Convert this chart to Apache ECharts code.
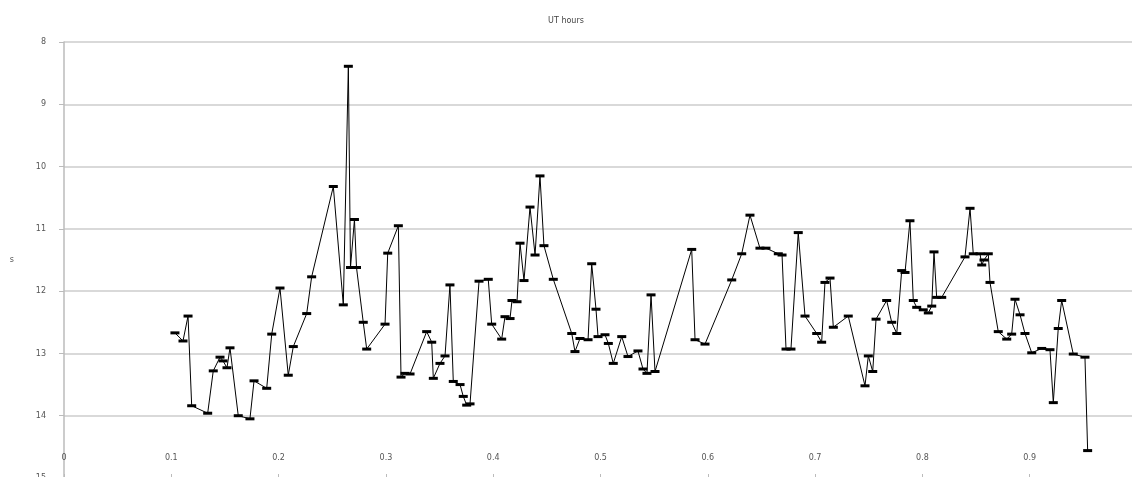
<!DOCTYPE html>
<html>
<head>
<meta charset="utf-8">
<title>UT hours</title>
<script src="https://cdn.jsdelivr.net/npm/echarts@6/dist/echarts.min.js"></script>
<style>
  html, body { margin: 0; padding: 0; background: #ffffff; }
  #chart { width: 1132px; height: 477px; }
</style>
</head>
<body>
<div id="chart"></div>
<script>
// Chart text
const chartTitle = 'UT hours';
const yAxisTitle = 's';

// Phase (x) of each observation
const phase = [
  0.1034, 0.1109, 0.1156, 0.1190, 0.1339, 0.1391, 0.1454, 0.1482, 0.1519, 0.1547,
  0.1624, 0.1733, 0.1771, 0.1889, 0.1936, 0.2013, 0.2090, 0.2137, 0.2262, 0.2308,
  0.2510, 0.2603, 0.2650, 0.2670, 0.2707, 0.2726, 0.2789, 0.2821, 0.2992, 0.3017,
  0.3116, 0.3141, 0.3178, 0.3225, 0.3380, 0.3427, 0.3442, 0.3504, 0.3551, 0.3597,
  0.3628, 0.3691, 0.3721, 0.3753, 0.3784, 0.3868, 0.3954, 0.3986, 0.4079, 0.4110,
  0.4157, 0.4175, 0.4222, 0.4250, 0.4287, 0.4343, 0.4390, 0.4436, 0.4473, 0.4560,
  0.4732, 0.4762, 0.4809, 0.4884, 0.4918, 0.4958, 0.4977, 0.5042, 0.5073, 0.5119,
  0.5198, 0.5256, 0.5349, 0.5396, 0.5433, 0.5471, 0.5508, 0.5850, 0.5881, 0.5974,
  0.6223, 0.6316, 0.6393, 0.6486, 0.6542, 0.6657, 0.6692, 0.6729, 0.6775, 0.6843,
  0.6906, 0.7015, 0.7061, 0.7092, 0.7139, 0.7170, 0.7309, 0.7465, 0.7496, 0.7537,
  0.7568, 0.7667, 0.7714, 0.7761, 0.7807, 0.7838, 0.7884, 0.7915, 0.7947, 0.8008,
  0.8055, 0.8087, 0.8108, 0.8133, 0.8180, 0.8397, 0.8444, 0.8474, 0.8537, 0.8553,
  0.8574, 0.8614, 0.8630, 0.8707, 0.8786, 0.8832, 0.8863, 0.8910, 0.8956, 0.9019,
  0.9112, 0.9189, 0.9220, 0.9266, 0.9298, 0.9406, 0.9515, 0.9540
];

// UT hours at each phase
const utHours = [
  12.67, 12.80, 12.40, 13.84, 13.96, 13.28, 13.06, 13.12, 13.23, 12.91,
  14.00, 14.05, 13.44, 13.56, 12.69, 11.95, 13.35, 12.89, 12.36, 11.77,
  10.32, 12.22, 8.39, 11.62, 10.85, 11.62, 12.50, 12.93, 12.53, 11.39,
  10.95, 13.38, 13.32, 13.33, 12.65, 12.82, 13.40, 13.16, 13.04, 11.90,
  13.45, 13.50, 13.69, 13.83, 13.81, 11.84, 11.81, 12.53, 12.77, 12.41,
  12.44, 12.15, 12.17, 11.23, 11.83, 10.65, 11.42, 10.15, 11.27, 11.81,
  12.68, 12.97, 12.76, 12.78, 11.56, 12.29, 12.73, 12.70, 12.84, 13.16,
  12.73, 13.05, 12.96, 13.25, 13.32, 12.06, 13.29, 11.33, 12.78, 12.85,
  11.82, 11.40, 10.78, 11.31, 11.31, 11.40, 11.42, 12.93, 12.93, 11.06,
  12.40, 12.68, 12.82, 11.86, 11.79, 12.58, 12.40, 13.52, 13.04, 13.29,
  12.45, 12.15, 12.50, 12.68, 11.67, 11.70, 10.87, 12.15, 12.26, 12.30,
  12.35, 12.24, 11.37, 12.10, 12.10, 11.45, 10.67, 11.40, 11.40, 11.58,
  11.50, 11.40, 11.86, 12.65, 12.77, 12.69, 12.13, 12.38, 12.68, 12.99,
  12.92, 12.94, 13.79, 12.60, 12.15, 13.01, 13.06, 14.56
];

const points = phase.map((p, i) => [p, utHours[i]]);

const chart = echarts.init(document.getElementById('chart'), null, { renderer: 'canvas' });

const labelFont = {
  color: '#555555',
  fontFamily: 'DejaVu Sans',
  fontSize: 8
};

chart.setOption({
  animation: false,
  backgroundColor: '#ffffff',
  title: {
    text: chartTitle,
    left: 'center',
    top: 12,
    textStyle: { color: '#444444', fontFamily: 'DejaVu Sans', fontSize: 8, fontWeight: 'normal' }
  },
  grid: {
    left: 64,
    top: 42,
    width: 1073,
    height: 436,
    containLabel: false,
    outerBoundsMode: 'none'
  },
  xAxis: {
    type: 'value',
    min: 0,
    max: 1,
    interval: 0.1,
    axisLine: { show: true, onZero: false, lineStyle: { color: '#bbbbbb', width: 1.5 } },
    axisTick: { show: true, inside: true, length: 4, lineStyle: { color: '#bbbbbb' } },
    axisLabel: Object.assign({ inside: true, margin: 16 }, labelFont),
    splitLine: { show: false }
  },
  yAxis: {
    type: 'value',
    inverse: true,
    min: 8,
    max: 15,
    interval: 1,
    name: yAxisTitle,
    nameLocation: 'middle',
    nameGap: 50,
    nameRotate: 0,
    nameTextStyle: labelFont,
    axisLine: { show: true, lineStyle: { color: '#bbbbbb', width: 1.5 } },
    axisTick: { show: true, length: 5, lineStyle: { color: '#bbbbbb' } },
    axisLabel: Object.assign({ margin: 18 }, labelFont),
    splitLine: { show: true, lineStyle: { color: '#cccccc', width: 1.5 } }
  },
  series: [{
    type: 'line',
    data: points,
    symbol: 'rect',
    symbolSize: [9, 3],
    showAllSymbol: true,
    itemStyle: { color: '#000000' },
    lineStyle: { color: '#000000', width: 1 },
    clip: false
  }]
});
</script>
</body>
</html>
